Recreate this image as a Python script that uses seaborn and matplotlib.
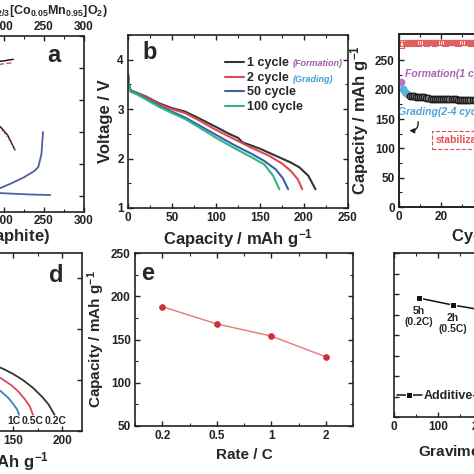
import matplotlib
matplotlib.use("Agg")
import matplotlib.pyplot as plt
from matplotlib.ticker import MultipleLocator
import pandas as pd
import seaborn as sns

# ---- panel a : full cell / half cell curves ----
a_top_cap = [0, 50, 100, 150, 190, 200, 206, 212]
a_top_black = [3.55, 3.8, 3.95, 4.1, 4.2, 4.22, 4.25, 4.27]
a_top_red = [3.45, 3.7, 3.88, 4.02, 4.1, 4.13, 4.15, 4.16]
a_mid_cap = [0, 50, 100, 150, 196, 205, 214]
a_mid_black = [3.9, 3.6, 3.3, 2.9, 2.16, 1.9, 1.44]
a_mid_red = [3.85, 3.55, 3.25, 2.85, 2.1, 1.85, 1.45]
a_blue_cap = [0, 50, 100, 150, 196, 210, 225, 238, 243, 247, 249]
a_blue_v = [0.05, 0.08, 0.12, 0.18, 0.25, 0.4, 0.58, 0.78, 0.9, 1.3, 2.0]
a_flat_cap = [0, 50, 100, 150, 196, 230, 258]
a_flat_v = [0.6, 0.3, 0.2, 0.13, 0.09, 0.05, 0.03]

# ---- panel b : discharge curves ----
b_cap_1 = [0, 1, 3, 10, 20, 35, 50, 65, 80, 100, 115, 125, 130, 150, 170, 185, 195, 205, 213]
b_v_1 = [3.72, 3.5, 3.38, 3.33, 3.26, 3.12, 3.02, 2.95, 2.82, 2.64, 2.5, 2.42, 2.33, 2.2, 2.04, 1.92, 1.82, 1.65, 1.38]
b_cap_2 = [0, 1, 3, 10, 20, 35, 50, 65, 80, 100, 120, 140, 160, 175, 185, 193, 198]
b_v_2 = [3.7, 3.5, 3.38, 3.33, 3.25, 3.1, 3.0, 2.92, 2.78, 2.58, 2.4, 2.22, 2.06, 1.9, 1.75, 1.58, 1.38]
b_cap_50 = [0, 1, 3, 10, 20, 35, 50, 65, 80, 100, 120, 140, 155, 168, 176, 182]
b_v_50 = [3.7, 3.48, 3.37, 3.32, 3.22, 3.07, 2.95, 2.83, 2.68, 2.48, 2.28, 2.1, 1.95, 1.78, 1.6, 1.38]
b_cap_100 = [0, 1, 3, 10, 20, 35, 50, 65, 80, 100, 120, 140, 155, 165, 172]
b_v_100 = [3.72, 3.48, 3.35, 3.3, 3.2, 3.05, 2.92, 2.8, 2.64, 2.42, 2.22, 2.03, 1.88, 1.65, 1.38]
b_labels = ["1 cycle", "2 cycle", "50 cycle", "100 cycle"]

# ---- panel c : cycling ----
c_cycle = list(range(1, 41))
c_capacity = [213, 202, 196, 192, 190, 189, 188.5, 188, 188, 188, 187.5, 187, 186, 185.5,
              185, 185, 185, 184.5, 184.5, 184, 184, 184, 184, 184, 183.5, 183.5, 183.5,
              183, 183, 183, 183, 183, 182.5, 182.5, 182.5, 182, 182, 182, 182, 182]
c_ce = [98.2, 99.6, 99.7, 99.7, 99.8, 99.7, 99.8, 99.8, 99.7, 99.8, 99.8, 99.8, 99.7, 99.8,
        99.8, 99.8, 99.7, 99.8, 99.8, 99.8, 99.8, 99.7, 99.8, 99.8, 99.8, 99.8, 99.8, 99.7,
        99.8, 99.8, 99.8, 99.8, 99.8, 99.7, 99.8, 99.8, 99.8, 99.8, 99.8, 99.8]

# ---- panel d : rate discharge curves ----
d_cap_02 = [0, 50, 100, 130, 140, 150, 160, 170, 180, 186, 192]
d_v_02 = [3.9, 3.4, 2.75, 2.3, 2.22, 2.12, 2.0, 1.85, 1.66, 1.52, 1.32]
d_cap_05 = [0, 50, 100, 130, 138, 148, 155, 162, 167, 170]
d_v_05 = [3.85, 3.3, 2.6, 2.12, 2.03, 1.9, 1.78, 1.62, 1.48, 1.32]
d_cap_1 = [0, 50, 100, 130, 138, 145, 150, 154, 156]
d_v_1 = [3.8, 3.2, 2.45, 1.9, 1.77, 1.65, 1.53, 1.42, 1.32]
d_names = ["1C", "0.5C", "0.2C"]

# ---- panel e : rate capability ----
e_rate = ["0.2", "0.5", "1", "2"]
e_capacity = [188, 168, 154, 130]

# ---- panel f : energy density ----
f_energy = [57, 134, 220, 300]
f_value = [5.8, 5.46, 5.15, 4.8]
f_notes = ["5h\n(0.2C)", "2h\n(0.5C)", "1h\n(1C)", "30min\n(2C)"]

sns.set_style("ticks")
plt.rcParams['font.family'] = ['Liberation Sans', 'DejaVu Sans']
plt.rcParams.update({
    'font.weight': 'bold', 'axes.labelweight': 'bold',
    'mathtext.fontset': 'custom', 'mathtext.rm': 'Liberation Sans:bold',
    'mathtext.it': 'Liberation Sans:bold:italic', 'mathtext.bf': 'Liberation Sans:bold',
    'mathtext.default': 'rm',
    'xtick.direction': 'in', 'ytick.direction': 'in',
    'xtick.top': True, 'ytick.right': True,
    'xtick.major.size': 3.5, 'ytick.major.size': 3.5,
    'xtick.minor.size': 2, 'ytick.minor.size': 2,
    'xtick.major.width': 1, 'ytick.major.width': 1,
    'xtick.minor.width': 0.8, 'ytick.minor.width': 0.8,
    'xtick.labelsize': 8.5, 'ytick.labelsize': 8.5,
    'xtick.major.pad': 3, 'ytick.major.pad': 3,
    'axes.edgecolor': '#222222', 'axes.linewidth': 1.2,
    'xtick.color': '#222222', 'ytick.color': '#222222',
})

W = 474.0
fig = plt.figure(figsize=(4.74, 4.74), dpi=100)


def box(x0, x1, y0, y1):
    return [x0 / W, 1 - y1 / W, (x1 - x0) / W, (y1 - y0) / W]


def ticks(ax, xmaj, xmin, ymaj, ymin):
    ax.xaxis.set_major_locator(MultipleLocator(xmaj))
    ax.xaxis.set_minor_locator(MultipleLocator(xmin))
    ax.yaxis.set_major_locator(MultipleLocator(ymaj))
    ax.yaxis.set_minor_locator(MultipleLocator(ymin))
    ax.tick_params(which='both', direction='in', top=True, right=True)


cap_lbl = r"Capacity / mAh g$^{-1}$"

# ---------------- a ----------------
axa = fig.add_axes(box(-157, 84, 36, 212))
sns.lineplot(x=a_top_cap, y=a_top_black, ax=axa, color='#222222', lw=1.1, estimator=None, sort=False)
sns.lineplot(x=a_top_cap, y=a_top_red, ax=axa, color='#e05050', lw=1.0, ls='--', estimator=None, sort=False)
sns.lineplot(x=a_mid_cap, y=a_mid_black, ax=axa, color='#222222', lw=1.1, estimator=None, sort=False)
sns.lineplot(x=a_mid_cap, y=a_mid_red, ax=axa, color='#e05050', lw=1.0, ls=':', estimator=None, sort=False)
sns.lineplot(x=a_blue_cap, y=a_blue_v, ax=axa, color='#4f5f9f', lw=1.3, estimator=None, sort=False)
sns.lineplot(x=a_flat_cap, y=a_flat_v, ax=axa, color='#4f5f9f', lw=1.3, estimator=None, sort=False)
axa.set_xlim(0, 300)
axa.set_ylim(-0.5, 5.0)
ticks(axa, 50, 25, 1, 1)
axa.tick_params(labeltop=True, labelleft=False)
axa.tick_params(axis='x', which='major', pad=2)
axa.set_xlabel(cap_lbl + " (Graphite)", fontsize=12, loc='right')
axa.xaxis.set_label_coords((50 + 157) / 241, -0.07)
axa.set_ylabel("")
axa.text(1.10, (212 - 11) / 176, cap_lbl + r" (Na$_{2/3}$[Co$_{0.05}$Mn$_{0.95}$]O$_2$)",
         transform=axa.transAxes, ha='right', va='center', fontsize=9)

# ---------------- b ----------------
axb = fig.add_axes(box(128, 348, 35, 208))
b_colors = ['#333333', '#dd4b4b', '#3a62a8', '#2fb585']
for cap, v, lab, col in zip([b_cap_1, b_cap_2, b_cap_50, b_cap_100],
                            [b_v_1, b_v_2, b_v_50, b_v_100], b_labels, b_colors):
    sns.lineplot(x=cap, y=v, ax=axb, color=col, lw=1.5, label=lab, estimator=None, sort=False)
axb.set_xlim(0, 250)
axb.set_ylim(1, 4.5)
ticks(axb, 50, 25, 1, 0.5)
axb.set_xlabel(cap_lbl, fontsize=12, labelpad=2)
axb.set_ylabel("Voltage / V", fontsize=12, labelpad=3)
axb.legend(loc='upper left', bbox_to_anchor=(0.44, 0.87), frameon=False, fontsize=9,
           handlelength=1.5, handletextpad=0.3, labelspacing=0.2, borderpad=0, borderaxespad=0)
axb.text((293 - 128) / 220, (208 - 64) / 173, "(Formation)", transform=axb.transAxes,
         va='center', ha='left', fontsize=6.5, style='italic', color='#a45aad')
axb.text((293 - 128) / 220, (208 - 79) / 173, "(Grading)", transform=axb.transAxes,
         va='center', ha='left', fontsize=6.5, style='italic', color='#3f9fd8')
axb.text(0.1, 0.9, "b", transform=axb.transAxes, fontsize=17, va='center', ha='center')

# ---------------- c ----------------
axc = fig.add_axes(box(399, 609, 34, 207))
dfc = pd.DataFrame({"cycle": c_cycle, "capacity": c_capacity, "ce": c_ce})
dfc["phase"] = ["Formation" if c == 1 else ("Grading" if c <= 4 else "Stable") for c in c_cycle]
face = {"Formation": '#b877c4', "Grading": '#58b0e3', "Stable": '#8a8a8a'}
for ph, sub in dfc.groupby("phase"):
    sns.scatterplot(data=sub, x="cycle", y="capacity", ax=axc, color=face[ph],
                    edgecolor='#1a1a1a' if ph == "Stable" else face[ph], s=22, linewidth=0.9,
                    zorder=3)
axc.set_xlim(0, 100)
axc.set_ylim(0, 295)
ticks(axc, 20, 10, 50, 25)
axc.set_ylabel(cap_lbl, fontsize=12, labelpad=3)
axc.set_xlabel("Cycle number", fontsize=12, loc='left')
axc.xaxis.set_label_coords((452 - 399) / 210, -0.13)
axc2 = axc.twinx()
sns.scatterplot(data=dfc, x="cycle", y="ce", ax=axc2, marker='s', s=16,
                facecolor='none', edgecolor='#e06060', linewidth=0.8)
axc2.set_ylim(0, 105)
axc2.set_ylabel("")
axc2.tick_params(direction='in')
axc.text(2.9, 227, "Formation(1 cycle)", color='#a763b5', style='italic', fontsize=7.5, va='center')
axc.text(-0.5, 162, "Grading(2-4 cycles)", color='#4ba3d9', style='italic', fontsize=7.5, va='center')
axc.annotate('', xy=(3.6, 131), xytext=(9, 150),
             arrowprops=dict(arrowstyle='-|>', connectionstyle='arc3,rad=-0.7', color='#222222',
                             lw=1, mutation_scale=7))
axc.text(17.5, 114, "stabilization", color='#e05050', fontsize=7.5, va='center',
         bbox=dict(boxstyle='square,pad=0.35', fc='none', ec='#e05050', ls='--', lw=0.8))

# ---------------- d ----------------
axd = fig.add_axes(box(-134, 82, 253, 431))
for cap, v, col in zip([d_cap_02, d_cap_05, d_cap_1], [d_v_02, d_v_05, d_v_1],
                       ['#333333', '#d9485a', '#3f7fc0']):
    sns.lineplot(x=cap, y=v, ax=axd, color=col, lw=1.3, estimator=None, sort=False)
axd.set_xlim(0, 220)
axd.set_ylim(1, 4.5)
ticks(axd, 50, 25, 1, 1)
axd.tick_params(labelleft=False)
axd.set_xlabel(cap_lbl, fontsize=12, labelpad=2)
for name, xx in zip(d_names, [151, 170, 193]):
    axd.text(xx, 1.2, name, fontsize=7.5, ha='center', va='center')

# ---------------- e ----------------
axe = fig.add_axes(box(135, 353, 253, 426))
sns.pointplot(x=e_rate, y=e_capacity, ax=axe, color='#d03a3a', markers='o',
              markersize=4, linewidth=1.0)
for ln in axe.lines:
    ln.set_color('#e27a7a')
    ln.set_markerfacecolor('#cf2e35')
    ln.set_markeredgecolor('#cf2e35')
axe.set_xlim(-0.5, 3.5)
axe.set_ylim(50, 250)
axe.yaxis.set_major_locator(MultipleLocator(50))
axe.yaxis.set_minor_locator(MultipleLocator(25))
axe.xaxis.set_minor_locator(MultipleLocator(0.5))
axe.tick_params(which='both', direction='in', top=True, right=True)
axe.set_xlabel("Rate / C", fontsize=11, labelpad=4)
axe.set_ylabel(cap_lbl, fontsize=11, labelpad=3)
axe.text(0.06, 0.88, "e", transform=axe.transAxes, fontsize=17, va='center', ha='center')

# ---------------- f ----------------
axf = fig.add_axes(box(394, 614, 253, 417))
sns.lineplot(x=f_energy, y=f_value, ax=axf, color='#111111', marker='s', markersize=5,
             lw=1.1, label="Additive-free", estimator=None, sort=False)
for xx, yy, note in zip(f_energy, f_value, f_notes):
    axf.annotate(note, (xx, yy), xytext=(0, -6), textcoords='offset points',
                 ha='center', va='top', fontsize=7.5, linespacing=1.1)
axf.set_xlim(0, 500)
axf.set_ylim(0, 8)
ticks(axf, 100, 50, 1, 1)
axf.tick_params(labelleft=False)
axf.set_xlabel(r"Gravimetric energy density / Wh kg$^{-1}$", fontsize=11, loc='left')
axf.xaxis.set_label_coords((418 - 394) / 220, -0.15)
axf.legend(loc='center left', bbox_to_anchor=(0.0, 0.128), frameon=False, fontsize=9,
           handlelength=2.0, handletextpad=0.2, borderpad=0, borderaxespad=0.2)

# panel letters outside the visible axes
fig.text(54 / W, 1 - 55 / W, "a", fontsize=17, ha='center', va='center')
fig.text(56 / W, 1 - 276 / W, "d", fontsize=17, ha='center', va='center')

fig.savefig("out.png", dpi=100)
